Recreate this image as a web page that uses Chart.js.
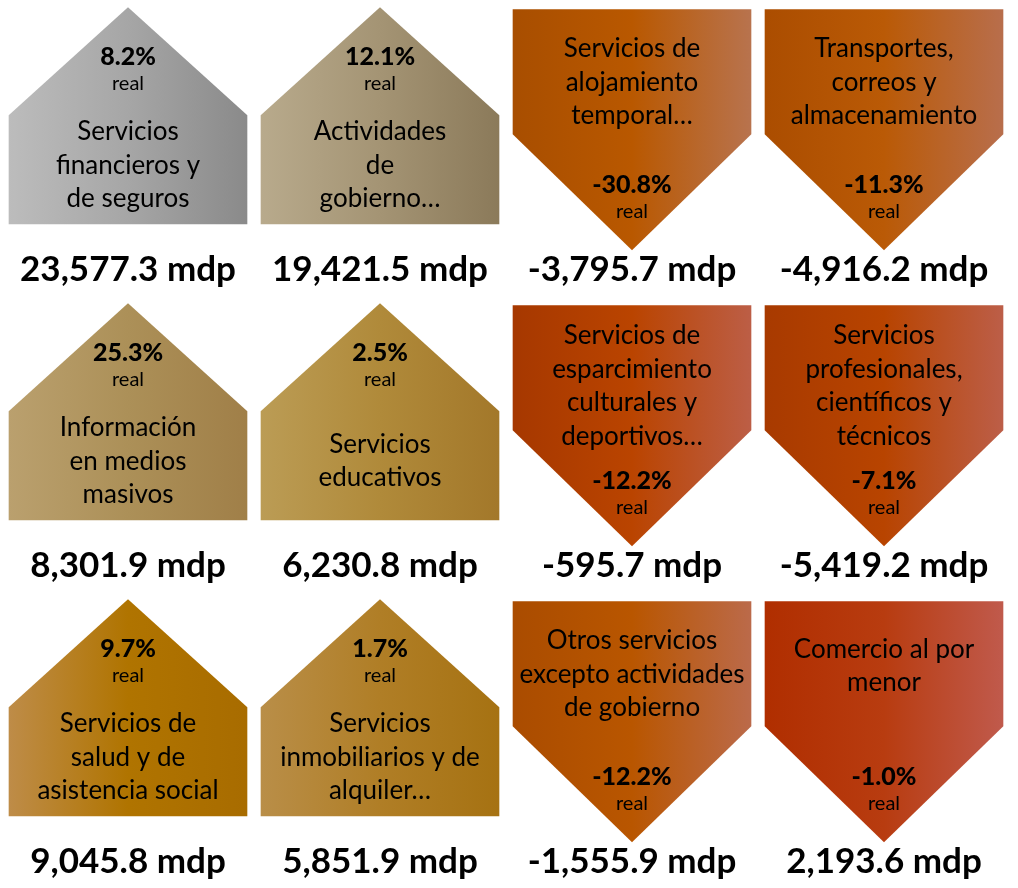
<!DOCTYPE html>
<html><head><meta charset="utf-8">
<script src="https://cdn.jsdelivr.net/npm/chart.js@4"></script>
<style>html,body{margin:0;padding:0;background:#fff}#wrap{width:1018px;height:888px;position:relative}</style>
</head><body><div id="wrap"><canvas id="c"></canvas></div>
<script>
// ---- data ----
const categories = [
  "Servicios\nfinancieros y\nde seguros",
  "Actividades\nde\ngobierno…",
  "Servicios de\nalojamiento\ntemporal…",
  "Transportes,\ncorreos y\nalmacenamiento",
  "Información\nen medios\nmasivos",
  "Servicios\neducativos",
  "Servicios de\nesparcimiento\nculturales y\ndeportivos…",
  "Servicios\nprofesionales,\ncientíficos y\ntécnicos",
  "Servicios de\nsalud y de\nasistencia social",
  "Servicios\ninmobiliarios y de\nalquiler…",
  "Otros servicios\nexcepto actividades\nde gobierno",
  "Comercio al por\nmenor"
];
const realGrowth = [8.2, 12.1, -30.8, -11.3, 25.3, 2.5, -12.2, -7.1, 9.7, 1.7, -12.2, -1.0];
const amountsMdp = [23577.3, 19421.5, -3795.7, -4916.2, 8301.9, 6230.8, -595.7, -5419.2, 9045.8, 5851.9, -1555.9, 2193.6];
const gridColumns = 4;

// ---- style ----
const fills = [
  ["#bcbcbc", "#a6a6a6", "#8a8a8a"],
  ["#b8aa8c", "#a49474", "#8b7a5a"],
  ["#a84e00", "#b95800", "#b8734e"],
  ["#ab4d00", "#ba5a06", "#b86e4c"],
  ["#baa06e", "#ac9058", "#a07f48"],
  ["#bb9c55", "#b08a3a", "#a3782a"],
  ["#a63800", "#ba4400", "#bc5e46"],
  ["#a83a00", "#b84400", "#bc5e48"],
  ["#be8c48", "#b07400", "#a86c00"],
  ["#b98e48", "#b07e26", "#a67212"],
  ["#aa4c00", "#b95600", "#bb6a4a"],
  ["#b02e00", "#b83c10", "#c05a4c"]
];
const fontName = "Lato";

const fmtAmount = v => v.toLocaleString("en-US", {minimumFractionDigits: 1, maximumFractionDigits: 1}) + " mdp";
const fmtPct = v => v.toFixed(1) + "%";

const points = categories.map((c, i) => ({x: i % gridColumns, y: Math.floor(i / gridColumns)}));

const arrowPlugin = {
  id: "arrows",
  afterDatasetsDraw(chart) {
    const ctx = chart.ctx;
    const meta = chart.getDatasetMeta(0);
    const xs = chart.scales.x, ys = chart.scales.y;
    const colW = Math.abs(xs.getPixelForValue(1) - xs.getPixelForValue(0));
    const rowH = Math.abs(ys.getPixelForValue(1) - ys.getPixelForValue(0));
    const hw = colW * 0.947 / 2;
    meta.data.forEach((el, i) => {
      const cx = el.x;
      const top = el.y - rowH * 0.472;
      const up = realGrowth[i] >= 0;
      ctx.save();
      const g = ctx.createLinearGradient(cx - hw, 0, cx + hw, 0);
      g.addColorStop(0, fills[i][0]);
      g.addColorStop(0.5, fills[i][1]);
      g.addColorStop(1, fills[i][2]);
      ctx.beginPath();
      if (up) {
        ctx.moveTo(cx, top - 1);
        ctx.lineTo(cx + hw, top + 107);
        ctx.lineTo(cx + hw, top + 216);
        ctx.lineTo(cx - hw, top + 216);
        ctx.lineTo(cx - hw, top + 107);
      } else {
        ctx.moveTo(cx - hw, top + 1);
        ctx.lineTo(cx + hw, top + 1);
        ctx.lineTo(cx + hw, top + 126);
        ctx.lineTo(cx, top + 242);
        ctx.lineTo(cx - hw, top + 126);
      }
      ctx.closePath();
      ctx.fillStyle = g;
      ctx.fill();

      ctx.fillStyle = "#000";
      ctx.textAlign = "center";
      ctx.textBaseline = "middle";
      const lines = categories[i].split("\n");
      const lh = 33.5;
      let nameCenter, pctY, realY;
      if (up) {
        nameCenter = top + 157;
        pctY = top + 49; realY = top + 75;
      } else {
        nameCenter = top + 50 + 8 * lines.length;
        pctY = top + 177; realY = top + 203;
      }
      ctx.font = "400 26px " + fontName;
      lines.forEach((ln, k) => {
        ctx.fillText(ln, cx, nameCenter + (k - (lines.length - 1) / 2) * lh);
      });
      ctx.font = "900 25px " + fontName;
      ctx.fillText(fmtPct(realGrowth[i]), cx, pctY);
      ctx.font = "400 20px " + fontName;
      ctx.fillText("real", cx, realY);
      ctx.font = "700 35px " + fontName;
      ctx.fillText(fmtAmount(amountsMdp[i]), cx, top + 261);
      ctx.restore();
    });
  }
};

new Chart(document.getElementById("c"), {
  type: "scatter",
  data: {
    labels: categories,
    datasets: [{
      label: "Crecimiento real",
      data: points,
      pointRadius: 0,
      pointHoverRadius: 0
    }]
  },
  options: {
    responsive: true,
    maintainAspectRatio: false,
    animation: false,
    layout: {padding: {left: 2, right: 8, top: 0, bottom: 0}},
    plugins: {legend: {display: false}, tooltip: {enabled: false}},
    scales: {
      x: {type: "linear", min: -0.5, max: 3.5, display: false},
      y: {type: "linear", min: -0.5, max: 2.5, reverse: true, display: false}
    }
  },
  plugins: [arrowPlugin]
});
</script>
</body></html>
